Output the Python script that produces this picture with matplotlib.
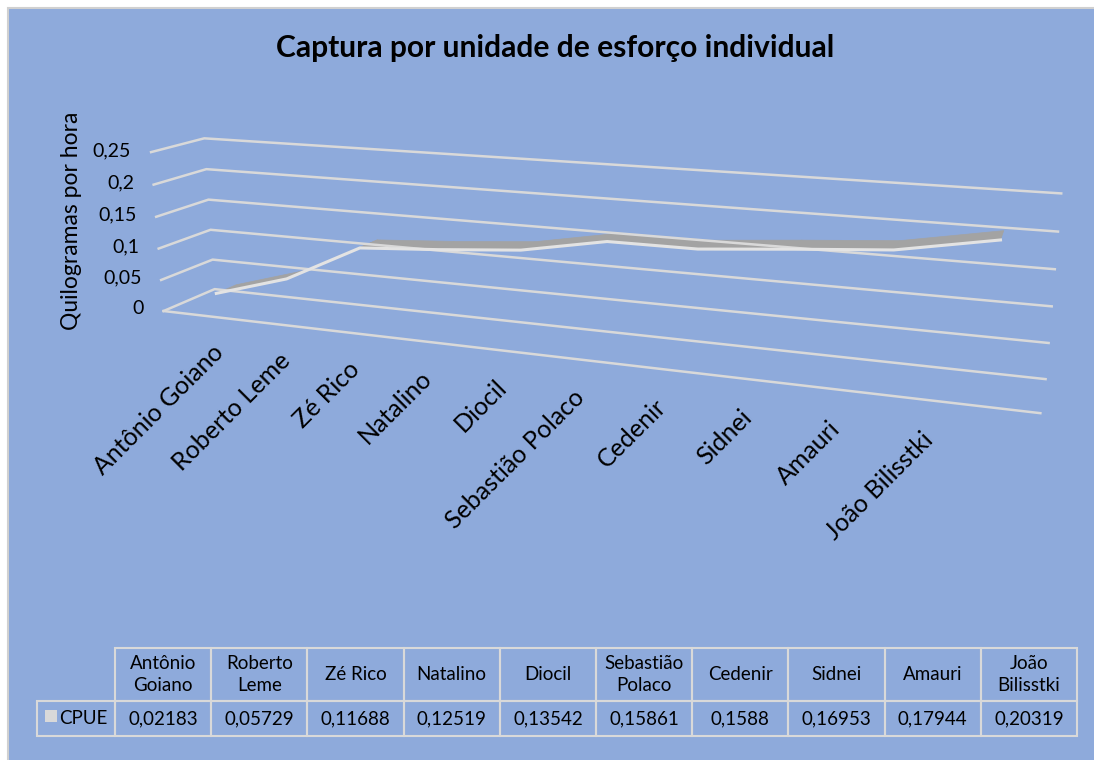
import numpy as np
import matplotlib
matplotlib.use('Agg')
import matplotlib.pyplot as plt
from matplotlib.patches import Rectangle
from matplotlib.table import Table
from mpl_toolkits.mplot3d.art3d import Poly3DCollection

# ---------------- data ----------------
names = ['Antônio Goiano', 'Roberto Leme', 'Zé Rico', 'Natalino', 'Diocil',
         'Sebastião Polaco', 'Cedenir', 'Sidnei', 'Amauri', 'João Bilisstki']
header_names = ['Antônio\nGoiano', 'Roberto\nLeme', 'Zé Rico', 'Natalino', 'Diocil',
                'Sebastião\nPolaco', 'Cedenir', 'Sidnei', 'Amauri', 'João\nBilisstki']
cpue = [0.02183, 0.05729, 0.11688, 0.12519, 0.13542, 0.15861, 0.1588, 0.16953, 0.17944, 0.20319]
series_name = 'CPUE'
z_ticks = [0, 0.05, 0.1, 0.15, 0.2, 0.25]
z_tick_labels = ['0', '0,05', '0,1', '0,15', '0,2', '0,25']
title = 'Captura por unidade de esforço individual'
z_title = 'Quilogramas por hora'

# ---------------- style ----------------
W, H = 1094, 760
BG = '#8EAADB'
GRID = '#D9D9D9'
SERIES = '#E3E3E3'
SERIES_TOP = '#A3A3A3'
FONT = 'Lato'

fig = plt.figure(figsize=(W/100, H/100), dpi=100, facecolor='white')
area = Rectangle((8/W, -0.05), 1.2, (H-8)/H + 0.05, transform=fig.transFigure,
                 facecolor=BG, edgecolor='#D0D0D0', lw=1.5, zorder=-5)
fig.add_artist(area)

# 3D view (perspective like the Excel 3-D line chart)
EL, AZ, RO, FL = 14.243, -69.043, 0.248, 0.2837
BOX = (1, 0.1045, 0.1929)
L0, B0, S0 = 100.9, 34.6, 910.2
n = len(names)

ax = fig.add_axes([L0/W, B0/H, S0/W, S0/H], projection='3d', computed_zorder=False)
ax.set_axis_off()
ax.set_facecolor('none')
ax.set_xlim(0, n); ax.set_ylim(0, 1); ax.set_zlim(0, z_ticks[-1])
ax.view_init(EL, AZ, RO)
ax.set_proj_type('persp', focal_length=FL)
ax.set_box_aspect(BOX, zoom=1)

# gridlines on side wall + back wall, and the floor front edge
for t in z_ticks:
    ax.plot([0, 0, n], [0, 1, 1], [t, t, t], color=GRID, lw=1.8, clip_on=False)
ax.plot([0, n], [0, 0], [0, 0], color=GRID, lw=1.8, clip_on=False)

# series ribbon
YF, DEPTH = 0.36, 0.4
xc = np.arange(n) + 0.5
quads = []
for i in range(n - 1):
    quads.append([(xc[i], YF, cpue[i]), (xc[i+1], YF, cpue[i+1]),
                  (xc[i+1], YF + DEPTH, cpue[i+1]), (xc[i], YF + DEPTH, cpue[i])])
ax.add_collection3d(Poly3DCollection(quads, facecolor=SERIES_TOP, edgecolor=SERIES_TOP, lw=0.5))
ax.plot(xc, np.full(n, YF), cpue, color=SERIES, lw=2.2, clip_on=False)

# label anchor points projected through the 3D axes' own transform
fig.canvas.draw()
M = ax.get_proj()

def to_px(x, y, z):
    x = np.asarray(x, float); y = np.asarray(y, float); z = np.asarray(z, float)
    v = M @ np.vstack([x, y, z, np.ones_like(x)])
    return ax.transData.transform(np.column_stack([v[0]/v[3], v[1]/v[3]]))

# value axis labels
tp = to_px(np.full(len(z_ticks), -0.28), np.zeros(len(z_ticks)), z_ticks)
for k, lab in enumerate(z_tick_labels):
    fig.text(tp[k, 0]/W, tp[k, 1]/H, lab, ha='right', va='center', fontsize=14, family=FONT)

# category labels
LBL_Y, LBL_Z, LBL_DX = 1.16, -0.098, -0.716
pts = to_px(xc + LBL_DX, np.full(n, LBL_Y), np.full(n, LBL_Z))
for i, nm in enumerate(names):
    fig.text(pts[i, 0]/W, pts[i, 1]/H, nm, rotation=45, rotation_mode='anchor',
             ha='right', va='top', fontsize=18, family=FONT)

fig.text(555/W, 1 - 48/H, title, ha='center', va='center', fontsize=21.6,
         weight='bold', family=FONT)
fig.text(72/W, 1 - 221/H, z_title, rotation=90, ha='center', va='center',
         fontsize=16.5, family=FONT)

# ---------------- data table ----------------
GL, GR, TT, TM, TB = 115, 1077, 648, 701, 736
tax = fig.add_axes([GL/W, 1 - TB/H, (GR-GL)/W, (TB-TT)/H])
tax.axis('off')
tbl = Table(tax, bbox=[0, 0, 1, 1])
wd = 1/n
wl = wd*78/((GR-GL)/n)
hh = (TM-TT)/(TB-TT); hd = 1 - hh
for j in range(n):
    tbl.add_cell(0, j, width=wd, height=hh, text=header_names[j], loc='center',
                 facecolor='none', edgecolor=GRID)
    tbl.add_cell(1, j, width=wd, height=hd, text=f'{cpue[j]}'.replace('.', ','),
                 loc='center', facecolor='none', edgecolor=GRID)
tbl.add_cell(1, -1, width=wl, height=hd, text=series_name, loc='right',
             facecolor='none', edgecolor=GRID)
tbl.auto_set_font_size(False)
for (r, cidx), cell in tbl.get_celld().items():
    cell.set_linewidth(1.5)
    cell.PAD = 0.1
    tx = cell.get_text()
    tx.set_fontsize(13.5); tx.set_fontfamily(FONT); tx.set_linespacing(1.3)
tax.add_table(tbl)
# legend key of the series in the table
fig.add_artist(Rectangle((45/W, 1 - 722/H), 12/W, 12/H, transform=fig.transFigure,
                         facecolor=GRID, edgecolor='none'))

fig.savefig('out.png', dpi=100)
